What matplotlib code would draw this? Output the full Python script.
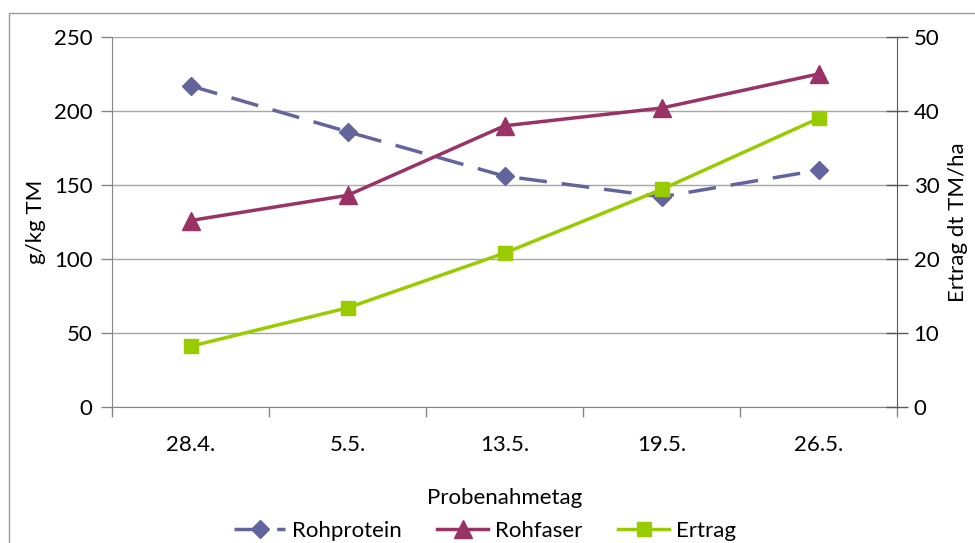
import matplotlib
matplotlib.use("Agg")
import matplotlib.pyplot as plt
from matplotlib.patches import Rectangle

# Probenahmetage und Messwerte
dates = ["28.4.", "5.5.", "13.5.", "19.5.", "26.5."]
rohprotein = [217, 186, 156, 142, 160]   # g/kg TM
rohfaser = [126, 143, 190, 202, 225]     # g/kg TM
ertrag = [8.2, 13.4, 20.8, 29.4, 39.0]   # dt TM/ha

left_ticks = [0, 50, 100, 150, 200, 250]
right_ticks = [0, 10, 20, 30, 40, 50]

c_protein = "#64649C"
c_faser = "#993366"
c_ertrag = "#99CC00"
grid_c = "#A6A6A6"
axis_c = "#868686"

plt.rcParams["font.family"] = ["Lato", "DejaVu Sans"]
fs = 16

W, H = 975, 543
fig = plt.figure(figsize=(W / 100, H / 100), dpi=100)

# Outer chart frame
fig.patches.append(Rectangle((9 / W, -0.05), 1.2, 1 - 13 / H + 0.05,
                             transform=fig.transFigure, fill=False,
                             edgecolor="#9A9A9A", linewidth=1.0))

l, r, t, b = 112, 897, 37, 407
ax = fig.add_axes([l / W, 1 - b / H, (r - l) / W, (b - t) / H])
ax2 = ax.twinx()

x = list(range(len(dates)))
lw = 2.5

ax.plot(x, rohprotein, color=c_protein, lw=lw, linestyle=(0, (8.0, 4.3)),
        marker="D", markersize=9, label="Rohprotein", zorder=3)
ax.plot(x, rohfaser, color=c_faser, lw=lw, marker="^", markersize=13,
        label="Rohfaser", zorder=3)
ax2.plot(x, ertrag, color=c_ertrag, lw=lw, marker="s", markersize=10,
         label="Ertrag", zorder=3)

ax.set_xlim(-0.5, len(dates) - 0.5)
ax.set_ylim(0, 250)
ax2.set_ylim(0, 50)
ax.set_yticks(left_ticks)
ax2.set_yticks(right_ticks)

ax.set_xticks(x)
ax.set_xticklabels(dates)
ax.set_xticks([i - 0.5 for i in range(len(dates) + 1)], minor=True)
ax.tick_params(axis="x", which="major", length=0, pad=20, labelsize=fs)
ax.tick_params(axis="x", which="minor", length=7, width=1, color=axis_c,
               direction="out")
ax.tick_params(axis="y", length=8, width=1, color=axis_c, direction="out",
               labelsize=fs, pad=6)
ax2.tick_params(axis="y", length=16, width=1, color="#595959",
                direction="inout", labelsize=fs, pad=4)

ax.grid(axis="y", color=grid_c, linewidth=1)
ax.set_axisbelow(True)

for s in ["top", "right"]:
    ax.spines[s].set_visible(False)
ax.spines["left"].set_color(axis_c)
ax.spines["bottom"].set_color(axis_c)
for s in ["top", "left", "bottom"]:
    ax2.spines[s].set_visible(False)
ax2.spines["right"].set_color("#595959")

ax.set_xlabel("Probenahmetag", fontsize=fs, labelpad=24)
ax.set_ylabel("g/kg TM", fontsize=fs, labelpad=6)
ax2.set_ylabel("Ertrag dt TM/ha", fontsize=fs, labelpad=6)

h1, l1 = ax.get_legend_handles_labels()
h2, l2 = ax2.get_legend_handles_labels()
fig.legend(h1 + h2, l1 + l2, loc="center", bbox_to_anchor=(485 / W, 1 - 531 / H),
           ncol=3, frameon=False, fontsize=fs, handlelength=2.3,
           columnspacing=1.6, handletextpad=0.3)

fig.savefig("out.png", dpi=100)
